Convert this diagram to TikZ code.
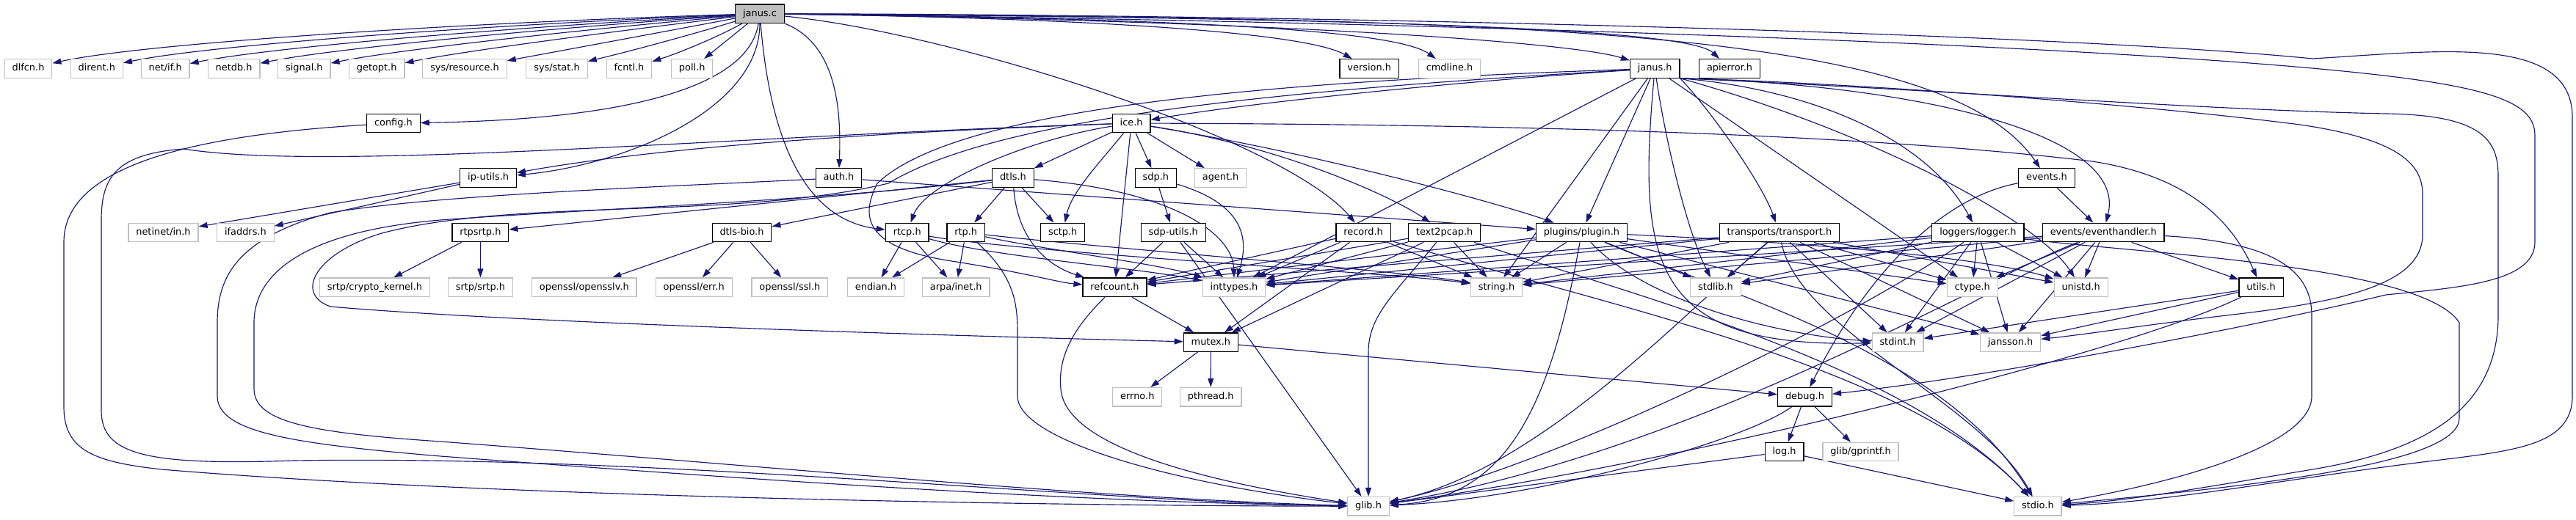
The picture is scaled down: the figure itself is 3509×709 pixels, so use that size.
\documentclass[tikz,border=0pt]{standalone}
\usepackage{fontspec}
\setmainfont{DejaVu Sans}
\usetikzlibrary{arrows.meta}
\definecolor{ecol}{HTML}{191970}
\definecolor{gcol}{HTML}{BFBFBF}
\pgfdeclarelayer{bg}
\pgfsetlayers{bg,main}
\begin{document}
\begin{tikzpicture}[x=1pt,y=-1pt,
  box/.style={draw=black,fill=white,line width=1.2pt,minimum height=25.5pt,inner xsep=10.4pt,inner ysep=0pt,text height=9.6pt,text depth=2.8pt,font=\fontsize{12.9pt}{15pt}\selectfont},
  ext/.style={box,draw=gcol},
  dep/.style={draw=ecol,line width=1.15pt,-{Triangle[length=12pt,width=8pt]}}]
\useasboundingbox (0,0) rectangle (3509,709);
% row 0
\node[box,fill=gcol] (jc) at (1035,18.7) {janus.c};
% row 1
\node[ext] (dlfcn) at (38.5,93.4) {dlfcn.h};
\node[ext] (dirent) at (131.8,93.4) {dirent.h};
\node[ext] (netif) at (225.2,93.4) {net/if.h};
\node[ext] (netdb) at (318.6,93.4) {netdb.h};
\node[ext] (signal) at (414.4,93.4) {signal.h};
\node[ext] (getopt) at (513.2,93.4) {getopt.h};
\node[ext] (sysres) at (633,93.4) {sys/resource.h};
\node[ext] (sysstat) at (758.5,93.4) {sys/stat.h};
\node[ext] (fcntl) at (857,93.4) {fcntl.h};
\node[ext] (poll) at (942.7,93.4) {poll.h};
\node[box] (version) at (1865.2,93.4) {version.h};
\node[ext] (cmdline) at (1974.5,93.4) {cmdline.h};
\node[box] (janush) at (2254.2,93.4) {janus.h};
\node[box] (apierror) at (2356,93.4) {apierror.h};
% row 2
\node[box] (config) at (535.9,168) {config.h};
\node[box] (ice) at (1541.1,168) {ice.h};
% row 3
\node[box] (iputils) at (665.1,242.5) {ip-utils.h};
\node[box] (auth) at (1142.5,242.5) {auth.h};
\node[box] (dtls) at (1379.9,242.5) {dtls.h};
\node[box] (sdp) at (1574.4,242.5) {sdp.h};
\node[ext] (agent) at (1662.6,242.5) {agent.h};
\node[box] (events) at (2788,242.5) {events.h};
% row 4
\node[ext] (netinet) at (222.5,317) {netinet/in.h};
\node[ext] (ifaddrs) at (334.4,317) {ifaddrs.h};
\node[box] (rtpsrtp) at (654.4,317) {rtpsrtp.h};
\node[box] (dtlsbio) at (1010.5,317) {dtls-bio.h};
\node[box] (rtcp) at (1235.7,317) {rtcp.h};
\node[box] (rtp) at (1315.7,317) {rtp.h};
\node[box] (sctp) at (1447.7,317) {sctp.h};
\node[box] (sdputils) at (1598.3,317) {sdp-utils.h};
\node[box] (record) at (1857.1,317) {record.h};
\node[box] (text2pcap) at (1967.6,317) {text2pcap.h};
\node[box] (plugin) at (2154.4,317) {plugins/plugin.h};
\node[box] (transport) at (2423.9,317) {transports/transport.h};
\node[box] (logger) at (2694.4,317) {loggers/logger.h};
\node[box] (evh) at (2865.2,317) {events/eventhandler.h};
% row 5
\node[ext] (crypto) at (510.4,391.7) {srtp/crypto\_kernel.h};
\node[ext] (srtpsrtp) at (654.4,391.7) {srtp/srtp.h};
\node[ext] (opensslv) at (795.8,391.7) {openssl/opensslv.h};
\node[ext] (err) at (945.2,391.7) {openssl/err.h};
\node[ext] (ssl) at (1075.9,391.7) {openssl/ssl.h};
\node[ext] (endian) at (1193,391.7) {endian.h};
\node[ext] (arpa) at (1302.3,391.7) {arpa/inet.h};
\node[box] (refcount) at (1518.5,391.7) {refcount.h};
\node[ext] (inttypes) at (1681,391.7) {inttypes.h};
\node[ext] (string) at (2038.5,391.7) {string.h};
\node[ext] (stdlib) at (2337,391.7) {stdlib.h};
\node[ext] (ctype) at (2686.6,391.7) {ctype.h};
\node[ext] (unistd) at (2834.6,391.7) {unistd.h};
\node[box] (utils) at (3080,391.7) {utils.h};
% row 6
\node[box] (mutex) at (1649.4,466.7) {mutex.h};
\node[ext] (stdint) at (2585,466.7) {stdint.h};
\node[ext] (jansson) at (2738.5,466.7) {jansson.h};
% row 7
\node[ext] (errno) at (1549.3,541.2) {errno.h};
\node[ext] (pthread) at (1649.2,541.2) {pthread.h};
\node[box] (debug) at (2458.5,541.2) {debug.h};
% row 8
\node[box] (log) at (2430.6,616) {log.h};
\node[ext] (gprintf) at (2534.5,616) {glib/gprintf.h};
% row 9
\node[ext] (glib) at (1864,690.2) {glib.h};
\node[ext] (stdio) at (2775.9,690.2) {stdio.h};

\begin{pgfonlayer}{bg}
% ---------- janus.c
\draw[dep] (jc) .. controls (650,30) and (200,58) .. (dlfcn);
\draw[dep] (jc) .. controls (700,32) and (290,60) .. (dirent);
\draw[dep] (jc) .. controls (750,34) and (380,62) .. (netif);
\draw[dep] (jc) .. controls (780,36) and (465,64) .. (netdb);
\draw[dep] (jc) .. controls (820,38) and (550,66) .. (signal);
\draw[dep] (jc) .. controls (860,40) and (640,68) .. (getopt);
\draw[dep] (jc) .. controls (900,44) and (760,70) .. (sysres);
\draw[dep] (jc) .. controls (940,48) and (850,72) .. (sysstat);
\draw[dep] (jc) .. controls (975,52) and (920,74) .. (fcntl);
\draw[dep] (jc) -- (poll);
\draw[dep] (jc) .. controls (1500,25) and (1780,45) .. (version);
\draw[dep] (jc) .. controls (1600,25) and (1900,40) .. (cmdline);
\draw[dep] (jc) .. controls (1800,30) and (2150,60) .. (janush);
\draw[dep] (jc) .. controls (1900,25) and (2300,40) .. (apierror);
\draw[dep] (jc) .. controls (1020,120) and (850,163) .. (config);
\draw[dep] (jc) .. controls (1035,150) and (850,225) .. (iputils);
\draw[dep] (jc) .. controls (1140,60) and (1146,150) .. (auth);
\draw[dep] (jc) .. controls (1050,200) and (1100,300) .. (rtcp);
\draw[dep] (jc) .. controls (1300,45) and (1750,190) .. (record);
\draw[dep] (jc) .. controls (2100,25) and (2650,40) .. (events);
\draw[dep] (jc) .. controls (1800,20) and (2800,45) .. (3150,80) .. controls (3320,70) and (3504,45) .. (3504,160) -- (3504,540) .. controls (3504,610) and (3420,615) .. (3300,630) .. controls (3100,655) and (2950,685) .. (stdio);
\draw[dep] (jc) .. controls (2000,30) and (3000,65) .. (3300,110) .. controls (3420,128) and (3453,150) .. (3453,185) -- (3453,330) .. controls (3453,385) and (3350,392) .. (3250,402) .. controls (3050,450) and (2700,515) .. (debug);
% ---------- janus.h
\draw[dep] (janush) .. controls (2000,110) and (1700,140) .. (ice);
\draw[dep] (janush) .. controls (1700,112) and (1300,150) .. (1195,250) .. controls (1175,290) and (1170,335) .. (1290,355) .. controls (1400,372) and (1440,385) .. (refcount);
\draw[dep] (janush) .. controls (1700,125) and (1350,165) .. (1210,250) .. controls (1000,300) and (700,270) .. (520,318) .. controls (430,345) and (400,400) .. (450,418) .. controls (700,440) and (1300,458) .. (mutex);
\draw[dep] (janush) -- (plugin);
\draw[dep] (janush) -- (string);
\draw[dep] (janush) -- (inttypes);
\draw[dep] (janush) -- (ctype);
\draw[dep] (janush) .. controls (2270,200) and (2300,320) .. (stdlib);
\draw[dep] (janush) .. controls (2230,360) and (2250,475) .. (stdint);
\draw[dep] (janush.south east) .. controls (2330,150) and (2400,250) .. (transport);
\draw[dep] (janush.south east) .. controls (2450,120) and (2620,180) .. (logger);
\draw[dep] (janush.south east) .. controls (2600,115) and (2900,180) .. (evh);
\draw[dep] (janush.south east) .. controls (2550,180) and (2775,300) .. (unistd);
\draw[dep] (janush.south east) .. controls (2600,120) and (3000,150) .. (3250,155) .. controls (3380,157) and (3403,190) .. (3403,240) -- (3403,430) .. controls (3403,560) and (3300,615) .. (3150,640) .. controls (3000,665) and (2900,683) .. (stdio);
\draw[dep] (janush.south east) .. controls (2500,112) and (2900,140) .. (3133,170) .. controls (3270,190) and (3300,225) .. (3300,265) -- (3300,320) .. controls (3300,385) and (3200,410) .. (3050,428) .. controls (2920,443) and (2850,455) .. (jansson);
% ---------- config
\draw[dep] (config) .. controls (250,185) and (87,230) .. (87,330) -- (87,555) .. controls (87,615) and (130,630) .. (220,640) .. controls (700,680) and (1500,690) .. (glib);
% ---------- ice.h
\draw[dep] (ice) .. controls (1200,180) and (900,200) .. (iputils);
\draw[dep] (ice) .. controls (1000,185) and (450,235) .. (250,203) .. controls (160,210) and (138,240) .. (138,300) -- (138,560) .. controls (138,620) and (200,635) .. (400,628) .. controls (900,620) and (1500,685) .. (glib);
\draw[dep] (ice) -- (dtls);
\draw[dep] (ice) .. controls (1400,190) and (1260,250) .. (rtcp);
\draw[dep] (ice) .. controls (1500,220) and (1460,260) .. (sctp);
\draw[dep] (ice) -- (refcount);
\draw[dep] (ice) -- (sdp);
\draw[dep] (ice) -- (agent);
\draw[dep] (ice) .. controls (1800,210) and (2050,280) .. (plugin);
\draw[dep] (ice) .. controls (1750,200) and (1900,270) .. (text2pcap);
\draw[dep] (ice) .. controls (2200,170) and (2600,190) .. (2850,220) .. controls (2980,240) and (3040,300) .. (utils);
% ---------- ip-utils, auth
\draw[dep] (iputils) -- (netinet);
\draw[dep] (iputils) -- (ifaddrs);
\draw[dep] (auth) .. controls (900,255) and (600,265) .. (450,290) .. controls (320,325) and (296,380) .. (296,440) -- (296,540) .. controls (296,590) and (400,605) .. (600,622) .. controls (1100,660) and (1500,685) .. (glib);
\draw[dep] (auth) -- (plugin);
% ---------- dtls
\draw[dep] (dtls) -- (dtlsbio);
\draw[dep] (dtls) -- (rtpsrtp);
\draw[dep] (dtls) -- (rtp);
\draw[dep] (dtls) -- (sctp);
\draw[dep] (dtls) .. controls (1385,320) and (1420,360) .. (refcount);
\draw[dep] (dtls) .. controls (1600,260) and (1680,320) .. (inttypes);
\draw[dep] (dtls) .. controls (1100,275) and (800,285) .. (600,300) .. controls (420,315) and (346,370) .. (346,440) -- (346,530) .. controls (346,575) and (420,590) .. (600,602) .. controls (1100,640) and (1500,680) .. (glib);
\draw[dep] (dtlsbio) -- (opensslv);
\draw[dep] (dtlsbio) -- (err);
\draw[dep] (dtlsbio) -- (ssl);
\draw[dep] (rtpsrtp) -- (crypto);
\draw[dep] (rtpsrtp) -- (srtpsrtp);
% ---------- sdp
\draw[dep] (sdp) -- (sdputils);
\draw[dep] (sdp) .. controls (1700,280) and (1700,330) .. (inttypes);
\draw[dep] (sdputils) -- (refcount);
\draw[dep] (sdputils) -- (inttypes);
\draw[dep] (sdputils) -- (glib);
% ---------- rtcp, rtp
\draw[dep] (rtcp) -- (endian);
\draw[dep] (rtcp) -- (arpa);
\draw[dep] (rtcp) .. controls (1350,350) and (1550,365) .. (inttypes);
\draw[dep] (rtcp) .. controls (1400,345) and (1900,372) .. (string);
\draw[dep] (rtp) -- (endian);
\draw[dep] (rtp) -- (arpa);
\draw[dep] (rtp) .. controls (1420,340) and (1580,360) .. (inttypes);
\draw[dep] (rtp) .. controls (1500,338) and (1900,368) .. (string);
\draw[dep] (rtp) .. controls (1386,380) and (1386,420) .. (1386,460) -- (1386,540) .. controls (1386,600) and (1600,660) .. (glib);
% ---------- record, text2pcap
\draw[dep] (record) -- (refcount);
\draw[dep] (record) -- (inttypes);
\draw[dep] (record) -- (mutex);
\draw[dep] (record) -- (string);
\draw[dep] (record) .. controls (2200,420) and (2600,500) .. (stdio);
\draw[dep] (text2pcap) -- (refcount);
\draw[dep] (text2pcap) -- (inttypes);
\draw[dep] (text2pcap) -- (mutex);
\draw[dep] (text2pcap) -- (string);
\draw[dep] (text2pcap) .. controls (1900,400) and (1864,430) .. (1864,480) -- (glib);
\draw[dep] (text2pcap) .. controls (2250,410) and (2600,500) .. (stdio);
% ---------- plugin
\draw[dep] (plugin) -- (string);
\draw[dep] (plugin) -- (stdlib);
\draw[dep] (plugin) -- (inttypes);
\draw[dep] (plugin) -- (refcount);
\draw[dep] (plugin) .. controls (2250,420) and (2450,460) .. (stdint);
\draw[dep] (plugin) -- (ctype);
\draw[dep] (plugin) .. controls (2450,330) and (2700,350) .. (unistd);
\draw[dep] (plugin) -- (jansson);
\draw[dep] (plugin) .. controls (2111,560) and (2050,680) .. (glib);
\draw[dep] (plugin) .. controls (2350,400) and (2650,480) .. (stdio);
% ---------- transport
\draw[dep] (transport) -- (stdlib);
\draw[dep] (transport) -- (string);
\draw[dep] (transport) -- (inttypes);
\draw[dep] (transport) -- (refcount);
\draw[dep] (transport) -- (stdint);
\draw[dep] (transport) -- (ctype);
\draw[dep] (transport) -- (unistd);
\draw[dep] (transport) -- (jansson);
\draw[dep] (transport) .. controls (2300,420) and (2100,640) .. (glib);
\draw[dep] (transport) .. controls (2450,450) and (2700,550) .. (stdio);
% ---------- logger
\draw[dep] (logger) -- (stdlib);
\draw[dep] (logger) -- (string);
\draw[dep] (logger) -- (inttypes);
\draw[dep] (logger) -- (ctype);
\draw[dep] (logger) -- (unistd);
\draw[dep] (logger) -- (stdint);
\draw[dep] (logger) -- (jansson);
\draw[dep] (logger) .. controls (2500,450) and (2100,640) .. (glib);
\draw[dep] (logger) .. controls (2900,345) and (3300,360) .. (3350,440) -- (3350,570) .. controls (3350,630) and (3100,660) .. (stdio);
% ---------- eventhandler
\draw[dep] (evh) -- (stdlib);
\draw[dep] (evh) -- (string);
\draw[dep] (evh) -- (inttypes);
\draw[dep] (evh) -- (ctype);
\draw[dep] (evh) -- (unistd);
\draw[dep] (evh) -- (stdint);
\draw[dep] (evh) -- (jansson);
\draw[dep] (evh) -- (utils);
\draw[dep] (evh) .. controls (2700,380) and (2300,620) .. (glib);
\draw[dep] (evh) .. controls (3100,330) and (3149,370) .. (3149,430) -- (3149,540) .. controls (3149,610) and (2950,660) .. (stdio);
% ---------- events
\draw[dep] (events) .. controls (2640,270) and (2540,380) .. (debug);
\draw[dep] (events) -- (evh);
% ---------- utils, refcount, mutex, debug, log
\draw[dep] (utils) -- (stdint);
\draw[dep] (utils) -- (jansson);
\draw[dep] (utils) .. controls (2900,480) and (2300,630) .. (glib);
\draw[dep] (refcount) -- (mutex);
\draw[dep] (refcount) .. controls (1470,440) and (1440,480) .. (1445,530) .. controls (1450,600) and (1600,650) .. (glib);
\draw[dep] (mutex) -- (errno);
\draw[dep] (mutex) -- (pthread);
\draw[dep] (mutex) -- (debug);
\draw[dep] (debug) -- (log);
\draw[dep] (debug) -- (gprintf);
\draw[dep] (debug) .. controls (2380,600) and (2100,680) .. (glib);
\draw[dep] (log) -- (stdio);
\draw[dep] (log) -- (glib);
\end{pgfonlayer}
\end{tikzpicture}
\end{document}
